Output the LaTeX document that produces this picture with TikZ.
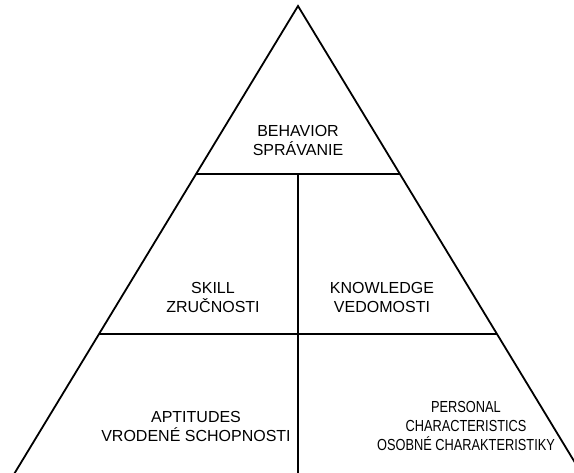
\documentclass[tikz,border=0pt]{standalone}
\usepackage{fontspec}
\setmainfont{Liberation Sans}
\newfontfamily\narrowfont[FakeStretch=0.8]{Liberation Sans}
\begin{document}
\begin{tikzpicture}[x=1pt,y=-1pt,
  edge/.style={line width=1.8pt,line join=miter},
  lbl/.style={align=center,inner sep=0pt,font=\fontsize{16}{19}\selectfont},
  lblnarrow/.style={align=center,inner sep=0pt,font=\narrowfont\fontsize{16}{19}\selectfont}]
\useasboundingbox (0,0) rectangle (574,473);
\begin{scope}
\clip (0,0) rectangle (574,473);
\coordinate (apex) at (298,6);
\coordinate (bl) at (5,489);
\coordinate (br) at (591,489);
\coordinate (l1) at (196,174);
\coordinate (r1) at (400,174);
\coordinate (l2) at (99,334);
\coordinate (r2) at (497,334);
\coordinate (m1) at (298,174);
\coordinate (m3) at (298,480);
\draw[edge] (bl) -- (apex) -- (br);
\draw[edge] (l1) -- (r1);
\draw[edge] (l2) -- (r2);
\draw[edge] (m1) -- (m3);
\end{scope}
\node[lbl] (beh) at (298,140) {BEHAVIOR\\SPRÁVANIE};
\node[lbl] (skill) at (213,297) {SKILL\\ZRUČNOSTI};
\node[lbl] (know) at (382,297) {KNOWLEDGE\\VEDOMOSTI};
\node[lbl] (apt) at (196,426) {APTITUDES\\VRODENÉ SCHOPNOSTI};
\node[lblnarrow] (pers) at (466,426) {PERSONAL\\CHARACTERISTICS\\OSOBNÉ CHARAKTERISTIKY};
\end{tikzpicture}
\end{document}
